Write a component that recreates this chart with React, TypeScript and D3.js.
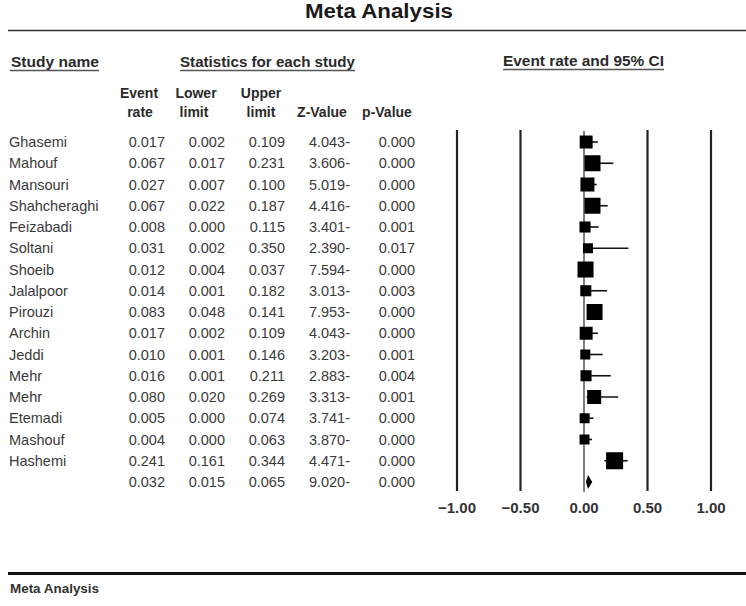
import React from "react";
import * as d3 from "d3";

const studies = [
  "Ghasemi", "Mahouf", "Mansouri", "Shahcheraghi", "Feizabadi", "Soltani", "Shoeib", "Jalalpoor",
  "Pirouzi", "Archin", "Jeddi", "Mehr", "Mehr", "Etemadi", "Mashouf", "Hashemi",
];
const eventRate = [0.017, 0.067, 0.027, 0.067, 0.008, 0.031, 0.012, 0.014, 0.083, 0.017, 0.010, 0.016, 0.080, 0.005, 0.004, 0.241];
const lowerLimit = [0.002, 0.017, 0.007, 0.022, 0.000, 0.002, 0.004, 0.001, 0.048, 0.002, 0.001, 0.001, 0.020, 0.000, 0.000, 0.161];
const upperLimit = [0.109, 0.231, 0.100, 0.187, 0.115, 0.350, 0.037, 0.182, 0.141, 0.109, 0.146, 0.211, 0.269, 0.074, 0.063, 0.344];
const zValue = [-4.043, -3.606, -5.019, -4.416, -3.401, -2.390, -7.594, -3.013, -7.953, -4.043, -3.203, -2.883, -3.313, -3.741, -3.870, -4.471];
const pValue = [0.000, 0.000, 0.000, 0.000, 0.001, 0.017, 0.000, 0.003, 0.000, 0.000, 0.001, 0.004, 0.001, 0.000, 0.000, 0.000];
// relative study weights (drive marker area)
const weights = [5.9, 9.0, 6.9, 9.0, 4.3, 3.5, 9.0, 4.3, 9.0, 5.9, 3.5, 4.3, 6.9, 3.5, 3.5, 10.2];

const summary = { eventRate: 0.032, lower: 0.015, upper: 0.065, z: -9.020, p: 0.000 };
const axisTicks = [-1, -0.5, 0, 0.5, 1];

const W = 746;
const H = 606;
const fontBody = "'Liberation Sans', Arial, sans-serif";

export default function App() {
  const x = d3.scaleLinear().domain([-1, 1]).range([457, 711]);
  const y = d3.scaleLinear().domain([0, studies.length]).range([142, 482]);
  const size = d3.scaleSqrt().domain([0, 9]).range([0, 16]);
  const fmt = d3.format(".3f");
  const fmtZ = (v: number) => `${fmt(Math.abs(v))}${v < 0 ? "-" : ""}`;
  const fmtTick = d3.format(".2f");

  const colRight = [165, 225, 285, 350, 415];
  const textColor = "#3a3a3a";
  const numSize = 14.5;

  const rowText = (
    name: string,
    vals: string[],
    i: number,
    key: string
  ) => (
    <g key={key} fontFamily={fontBody} fontSize={numSize} fill={textColor}>
      {name && (
        <text x={9} y={y(i) + 5}>
          {name}
        </text>
      )}
      {vals.map((v, j) => (
        <text key={j} x={colRight[j]} y={y(i) + 5} textAnchor="end">
          {v}
        </text>
      ))}
    </g>
  );

  const lineTop = 130;
  const lineBottom = 491;

  const headerUnderline = (x1: number, x2: number, yy: number, k: string) => (
    <line key={k} x1={x1} x2={x2} y1={yy} y2={yy} stroke="#555" strokeWidth={1.6} />
  );

  const d = summary;
  const diamondPath = d3.line()([
    [x(d.lower), y(studies.length)],
    [x(d.eventRate), y(studies.length) - 7],
    [x(d.upper), y(studies.length)],
    [x(d.eventRate), y(studies.length) + 7],
  ]) + "Z";

  return (
    <svg
      width={W}
      height={H}
      style={{ position: "absolute", left: 0, top: 0, background: "#fff" }}
    >
      <rect width={W} height={H} fill="#fff" />
      {/* Title */}
      <text
        x={379}
        y={18}
        textAnchor="middle"
        fontFamily={fontBody}
        fontWeight="bold"
        fontSize={20}
        fill="#1a1a1a"
        textLength={148}
        lengthAdjust="spacingAndGlyphs"
      >
        Meta Analysis
      </text>
      <line x1={8} x2={746} y1={30.5} y2={30.5} stroke="#333" strokeWidth={1.6} />

      {/* Section headers */}
      <g fontFamily={fontBody} fontWeight="bold" fontSize={15} fill="#2a2a2a">
        <text x={11} y={67} textLength={88} lengthAdjust="spacingAndGlyphs">Study name</text>
        <text x={180} y={67} textLength={175} lengthAdjust="spacingAndGlyphs">Statistics for each study</text>
        <text x={503} y={66} textLength={161} lengthAdjust="spacingAndGlyphs">Event rate and 95% CI</text>
      </g>
      {headerUnderline(10, 99, 70.5, "u1")}
      {headerUnderline(180, 355, 70.5, "u2")}
      {headerUnderline(503, 664, 69.5, "u3")}

      {/* Column headers */}
      <g fontFamily={fontBody} fontWeight="bold" fontSize={14} fill="#2a2a2a" textAnchor="middle">
        <text x={139} y={98}>Event</text>
        <text x={140} y={117}>rate</text>
        <text x={196} y={98}>Lower</text>
        <text x={194} y={117}>limit</text>
        <text x={261} y={98}>Upper</text>
        <text x={261} y={117}>limit</text>
        <text x={322} y={117}>Z-Value</text>
        <text x={387} y={117}>p-Value</text>
      </g>

      {/* Study rows */}
      {studies.map((s, i) =>
        rowText(
          s,
          [fmt(eventRate[i]), fmt(lowerLimit[i]), fmt(upperLimit[i]), fmtZ(zValue[i]), fmt(pValue[i])],
          i,
          `r${i}`
        )
      )}
      {rowText(
        "",
        [fmt(d.eventRate), fmt(d.lower), fmt(d.upper), fmtZ(d.z), fmt(d.p)],
        studies.length,
        "summary"
      )}

      {/* Reference lines */}
      {axisTicks.map((t) => (
        <line
          key={`g${t}`}
          x1={x(t)}
          x2={x(t)}
          y1={t === 0 ? lineTop + 1 : lineTop}
          y2={t === 0 ? lineBottom + 1 : lineBottom}
          stroke={t === 0 ? "#555" : "#222"}
          strokeWidth={t === 0 ? 1.5 : 2.2}
        />
      ))}

      {/* CI lines and squares */}
      {studies.map((s, i) => {
        const sz = size(weights[i]);
        return (
          <g key={`m${i}`}>
            <line
              x1={x(lowerLimit[i])}
              x2={x(upperLimit[i])}
              y1={y(i)}
              y2={y(i)}
              stroke="#111"
              strokeWidth={1.6}
            />
            <rect
              x={x(eventRate[i]) - sz / 2}
              y={y(i) - sz / 2}
              width={sz}
              height={sz}
              fill="#000"
            />
          </g>
        );
      })}
      <path d={diamondPath} fill="#000" />

      {/* Axis tick labels */}
      <g fontFamily={fontBody} fontWeight="bold" fontSize={15} fill="#333" textAnchor="middle">
        {axisTicks.map((t) => (
          <text key={`t${t}`} x={x(t)} y={513}>
            {fmtTick(t)}
          </text>
        ))}
      </g>

      {/* Footer */}
      <line x1={8} x2={746} y1={573.5} y2={573.5} stroke="#111" strokeWidth={3} />
      <text
        x={10}
        y={593}
        fontFamily={fontBody}
        fontWeight="bold"
        fontSize={12.5}
        fill="#333"
        textLength={89}
        lengthAdjust="spacingAndGlyphs"
      >
        Meta Analysis
      </text>
    </svg>
  );
}
